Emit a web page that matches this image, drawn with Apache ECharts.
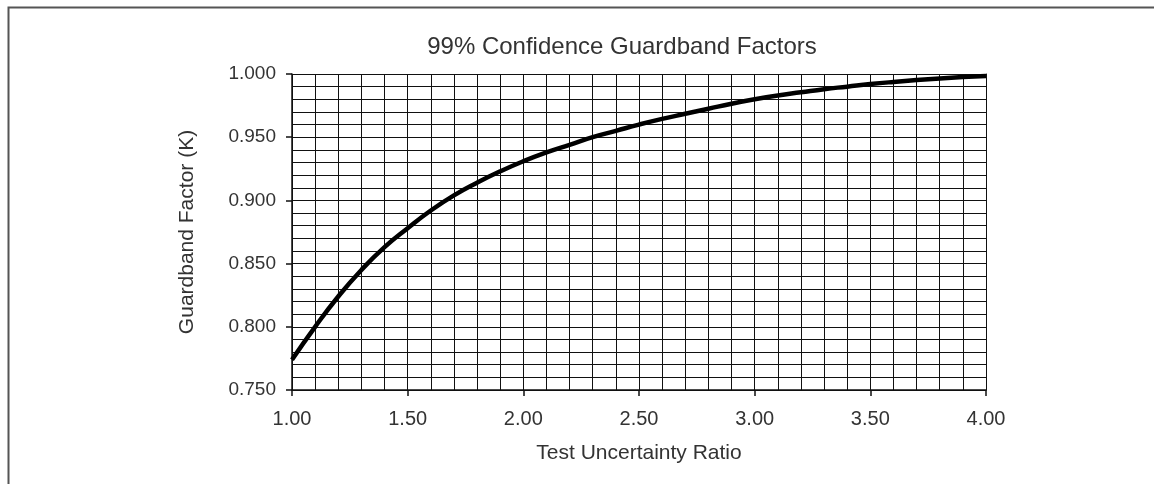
<!DOCTYPE html>
<html>
<head>
<meta charset="utf-8">
<script src="https://cdn.jsdelivr.net/npm/echarts@6/dist/echarts.min.js"></script>
<style>html,body{margin:0;padding:0;background:#fff}#c{width:1154px;height:484px}</style>
</head>
<body>
<div id="c"></div>
<script>
var tur = [1.0,1.1,1.2,1.3,1.4,1.5,1.6,1.7,1.8,1.9,2.0,2.1,2.2,2.3,2.4,2.5,2.6,2.7,2.8,2.9,3.0,3.1,3.2,3.3,3.4,3.5,3.6,3.7,3.8,3.9,4.0];
var kFactor = [0.774,0.800,0.824,0.845,0.863,0.878,0.892,0.904,0.914,0.923,0.931,0.938,0.944,0.950,0.955,0.960,0.9645,0.9685,0.9725,0.9765,0.980,0.983,0.9855,0.988,0.990,0.992,0.9937,0.9952,0.9965,0.9976,0.9985];
var titleText = '99% Confidence Guardband Factors';
var xName = 'Test Uncertainty Ratio';
var yName = 'Guardband Factor (K)';

var data = tur.map(function(t,i){return [t,kFactor[i]];});
var FONT = 'Liberation Sans, Arial, sans-serif';
var gridLine = {show:true, lineStyle:{color:'#111', width:1}};
var chart = echarts.init(document.getElementById('c'), null, {renderer:'canvas'});
chart.setOption({
  animation:false,
  backgroundColor:'#fff',
  grid:{left:292, right:168, top:74, bottom:94, containLabel:false},
  graphic:[
    {type:'rect', left:6, top:5, shape:{width:1300, height:700}, style:{fill:null, stroke:'#555', lineWidth:2}, silent:true},
    {type:'text', x:622, y:47, style:{text:titleText, font:'24px '+FONT, fill:'#333', textAlign:'center', textVerticalAlign:'middle'}}
  ],
  xAxis:[
    {type:'value', min:1, max:4, interval:0.1, position:'top',
     axisLine:{show:true, lineStyle:{color:'#111', width:1}}, axisTick:{show:false}, axisLabel:{show:false},
     splitLine:gridLine},
    {type:'value', min:1, max:4, interval:0.5, position:'bottom',
     axisLine:{show:true, onZero:false, lineStyle:{color:'#111', width:1.5}},
     axisTick:{show:true, length:6, lineStyle:{color:'#111', width:1.5}},
     axisLabel:{show:true, margin:19, color:'#333', fontSize:20, fontFamily:FONT, formatter:function(v){return v.toFixed(2);}},
     splitLine:{show:false},
     name:xName, nameLocation:'middle', nameGap:53, nameTextStyle:{color:'#333', fontSize:21, fontFamily:FONT}}
  ],
  yAxis:[
    {type:'value', min:0.75, max:1.0, interval:0.01, position:'right',
     axisLine:{show:true, lineStyle:{color:'#111', width:1}}, axisTick:{show:false}, axisLabel:{show:false},
     splitLine:gridLine},
    {type:'value', min:0.75, max:1.0, interval:0.05, position:'left',
     axisLine:{show:true, onZero:false, lineStyle:{color:'#111', width:1.5}},
     axisTick:{show:true, length:6, lineStyle:{color:'#111', width:1.5}},
     axisLabel:{show:true, margin:16, color:'#333', fontSize:19, fontFamily:FONT, formatter:function(v){return v.toFixed(3);}},
     splitLine:{show:false},
     name:yName, nameLocation:'middle', nameGap:94, nameRotate:90, nameTextStyle:{color:'#333', fontSize:21, fontFamily:FONT}}
  ],
  series:[{
    type:'line', xAxisIndex:1, yAxisIndex:1, data:data, smooth:true, showSymbol:false,
    lineStyle:{color:'#000', width:4.5}
  }]
});
</script>
</body>
</html>
